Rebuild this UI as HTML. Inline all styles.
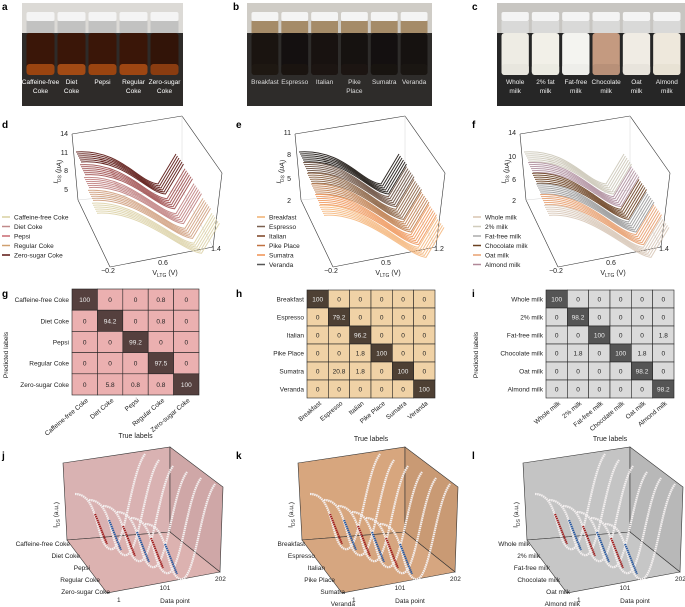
<!DOCTYPE html><html><head><style>body{margin:0;background:#fff}svg{display:block;font-family:"Liberation Sans",sans-serif}</style></head><body>
<svg id="s" width="685" height="607" viewBox="0 0 685 607" xmlns="http://www.w3.org/2000/svg"></svg>
<script>
const s=document.getElementById('s');let h='';
function T(x,y,t,o={}){h+=`<text x="${x}" y="${y}" font-size="${o.fs||7}" fill="${o.c||'#222'}" text-anchor="${o.a||'start'}" ${o.tr?`transform="${o.tr}"`:''} ${o.b?'font-weight="bold"':''}>${t}</text>`;}
[['a',2,10],['b',233,10],['c',472,10],['d',2,128],['e',236,128],['f',472,128],['g',2,297],['h',236,297],['i',472,297],['j',2,459],['k',236,459],['l',472,459]].forEach(p=>T(p[1],p[2],p[0],{fs:10,b:1,c:'#000'}));
function photo(x0,x1,top,bot,vials,labels,lc){const W=x1-x0;h+=`<rect x="${x0}" y="3" width="${W}" height="103" fill="${bot}"/><rect x="${x0}" y="3" width="${W}" height="30" fill="${top}"/>`;
 const n=vials.length,w=(W-6)/n;vials.forEach((v,i)=>{const x=x0+3+i*w+1.5,vw=w-3;h+=`<rect x="${x}" y="12" width="${vw}" height="9" rx="2" fill="#f4f4f4"/><rect x="${x}" y="21" width="${vw}" height="12" fill="${v[2]}" opacity="0.8"/><rect x="${x}" y="33" width="${vw}" height="42" rx="3" fill="${v[0]}"/><rect x="${x}" y="64" width="${vw}" height="11" rx="3" fill="${v[1]}"/>`;
 const L=labels[i];L.forEach((t,j)=>T(x+vw/2,84+j*9,t,{a:'middle',c:lc,fs:6.5}));});}
photo(22,183,'#dcdad6','#2e2b29',[['#3a1608','#9a4410','#bbb'],['#3a1608','#a24a14','#bbb'],['#3a1608','#9a4410','#bbb'],['#3a1608','#9e4612','#bbb'],['#321408','#8a3c10','#bbb']],[['Caffeine-free','Coke'],['Diet','Coke'],['Pepsi'],['Regular','Coke'],['Zero-sugar','Coke']],'#fff');
photo(247,432,'#cfccc6','#2e2c2a',[['#1a1410','#1e1812','#9a7a50'],['#141010','#1a1410','#9a7a50'],['#181210','#1c1512','#9a7a50'],['#161210','#1c1512','#9a7a50'],['#141010','#181410','#9a7a50'],['#161210','#1a1612','#9a7a50']],[['Breakfast'],['Espresso'],['Italian'],['Pike','Place'],['Sumatra'],['Veranda']],'#ddd');
photo(497,685,'#c8c6c2','#262626',[['#eeece4','#e8e6de','#ddd'],['#f2f0e8','#ecebe2','#ddd'],['#f4f4f0','#eeeeea','#ddd'],['#c49a80','#b89078','#ddd'],['#f0ece4','#e8e4dc','#ddd'],['#eee8dc','#e8e2d4','#ddd']],[['Whole','milk'],['2% fat','milk'],['Fat-free','milk'],['Chocolate','milk'],['Oat','milk'],['Almond','milk']],'#eee');
const lcol={0:['#d8d0a0','#c08a8a','#c86870','#d0a070','#5a1410'],223:['#f0b070','#7a6050','#7a4020','#c07040','#f09050','#555'],448:['#d8c4b0','#d0ccbc','#aaa','#6a4020','#e8a070','#b08898']};
function line3d(ox,cols,yt,xt,legend,lx,ly){
 const L=(a,b,c,d,st='#333',w=0.6)=>h+=`<line x1="${a+ox}" y1="${b}" x2="${c+ox}" y2="${d}" stroke="${st}" stroke-width="${w}"/>`;
 L(72,134,182,116);L(182,116,222,173);L(222,173,213,247);L(213,247,110,267);L(110,267,78,200);L(78,200,72,134);
 L(182,116,182,190,'#ccc',0.4);L(182,190,78,200,'#ccc',0.4);L(182,190,213,247,'#ccc',0.4);
 const nb=cols.length;
 cols.forEach((c,i)=>{for(let k=0;k<6;k++){const sx=76+i*4+k,sy=152+i*(64/nb)+k*2,mx=158+i*(45/nb)+k*1.5,my=sy+32+i*2,ex=mx+18,ey=my-30;
  h+=`<path d="M${sx+ox},${sy} C${sx+45+ox},${sy-3} ${mx-20+ox},${my-2} ${mx+ox},${my} L${ex+ox},${ey}" fill="none" stroke="${c}" stroke-width="1" opacity="0.9"/>`;}});
 yt.forEach((t,i)=>T(68+ox,ly[i]+2,t,{a:'end'}));
 T(60+ox,172,'I<tspan font-size="5" dy="2">DS</tspan><tspan dy="-2"> (μA)</tspan>',{tr:`rotate(-80 ${60+ox} 172)`,a:'middle'});
 T(108+ox,273,xt[0],{a:'middle'});T(163+ox,265,xt[1],{a:'middle'});T(216+ox,251,xt[2],{a:'middle'});
 T(165+ox,275,'V<tspan font-size="5" dy="2">LTG</tspan><tspan dy="-2"> (V)</tspan>',{a:'middle'});
 legend.forEach((t,i)=>{h+=`<line x1="${lx}" y1="${217+i*9.5}" x2="${lx+8}" y2="${217+i*9.5}" stroke="${lcol[ox][i]}" stroke-width="1.5"/>`;T(lx+12,219.5+i*9.5,t,{fs:6.5});});
}
line3d(0,['#5a1410','#a05050','#c08080','#d0a080','#ddd3a8'],['14','11','8','5'],['−0.2','0.6','1.4'],['Caffeine-free Coke','Diet Coke','Pepsi','Regular Coke','Zero-sugar Coke'],2,[134,153,171,190]);
line3d(223,['#1a1410','#6a5040','#8a6040','#c08050','#f09a60','#f5b880'],['11','8','5','2'],['−0.2','0.5','1.2'],['Breakfast','Espresso','Italian','Pike Place','Sumatra','Veranda'],257,[133,155,179,201]);
line3d(448,['#ccc8b8','#b090a0','#6a4020','#999','#e8a070','#d8c8b8'],['14','10','6','2'],['−0.2','0.6','1.4'],['Whole milk','2% milk','Fat-free milk','Chocolate milk','Oat milk','Almond milk'],473,[133,157,180,201]);
function mat(x0,y0,w,hh,labs,data,lc,dc){const n=labs.length,cw=w/n,ch=hh/n;
 data.forEach((r,i)=>r.forEach((v,j)=>{const d=i==j;h+=`<rect x="${x0+j*cw}" y="${y0+i*ch}" width="${cw}" height="${ch}" fill="${d?dc:lc}" stroke="#222" stroke-width="0.6"/>`;T(x0+j*cw+cw/2,y0+i*ch+ch/2+2.5,v,{a:'middle',fs:6.5,c:d?'#eee':'#222'});}));
 labs.forEach((t,i)=>{T(x0-3,y0+i*ch+ch/2+2.5,t,{a:'end',fs:6.5});});
 labs.forEach((t,j)=>{const x=x0+j*cw+cw/2+4,y=y0+hh+6;T(x,y,t,{a:'end',fs:6.5,tr:`rotate(-40 ${x} ${y})`});});
 T(x0+w/2,y0+hh+43,'True labels',{a:'middle'});}
mat(72,289,127,106,['Caffeine-free Coke','Diet Coke','Pepsi','Regular Coke','Zero-sugar Coke'],[['100','0','0','0.8','0'],['0','94.2','0','0.8','0'],['0','0','99.2','0','0'],['0','0','0','97.5','0'],['0','5.8','0.8','0.8','100']],'#ebb0b0','#55403e');
T(8,355,'Predicted labels',{fs:6.5,tr:'rotate(-90 8 355)',a:'middle'});
mat(307,290,128,108,['Breakfast','Espresso','Italian','Pike Place','Sumatra','Veranda'],[['100','0','0','0','0','0'],['0','79.2','0','0','0','0'],['0','0','96.2','0','0','0'],['0','0','1.8','100','0','0'],['0','20.8','1.8','0','100','0'],['0','0','0','0','0','100']],'#f0d2a6','#4e4034');
mat(546,290,128,108,['Whole milk','2% milk','Fat-free milk','Chocolate milk','Oat milk','Almond milk'],[['100','0','0','0','0','0'],['0','98.2','0','0','0','0'],['0','0','100','0','0','1.8'],['0','1.8','0','100','1.8','0'],['0','0','0','0','98.2','0'],['0','0','0','0','0','98.2']],'#dadada','#555');
T(478,355,'Predicted labels',{fs:6.5,tr:'rotate(-90 478 355)',a:'middle'});
function box(ox,fc,labs){const P=a=>a.map(p=>(p[0]+ox)+','+p[1]).join(' ');
 h+=`<polygon points="${P([[63,463],[170,447],[170,532],[67,540]])}" fill="${fc[0]}" stroke="#333" stroke-width="0.6"/>`;
 h+=`<polygon points="${P([[170,447],[223,487],[220,572],[170,532]])}" fill="${fc[1]}" stroke="#333" stroke-width="0.6"/>`;
 h+=`<polygon points="${P([[67,540],[170,532],[220,572],[107,593]])}" fill="${fc[2]}" stroke="#333" stroke-width="0.6"/>`;
 for(let i=0;i<6;i++){const x=75+i*14,y=494+i*6;h+=`<path d="M${x+ox},${y} C${x+25+ox},${y} ${x+20+ox},${y+50} ${x+35+ox},${y+55} S${x+55+ox},${y-20} ${x+70+ox},${y-40}" fill="none" stroke="#f4f0f0" stroke-width="2.2" stroke-dasharray="1.5 0.6"/>`;
  h+=`<path d="M${x+20+ox},${y+20} q6,15 12,30" stroke="${i%2?'#2a5aa0':'#a02020'}" stroke-width="2" fill="none" stroke-dasharray="1.5 0.6"/>`;}
 T(58+ox,515,'I<tspan font-size="5" dy="2">DS</tspan><tspan dy="-2"> (a.u.)</tspan>',{fs:6.5,tr:`rotate(-88 ${58+ox} 515)`,a:'middle'});
 labs.forEach((t,i)=>T(70+ox+i*10,546+i*12,t,{a:'end',fs:6.5}));
 T(117+ox,602,'1',{fs:6.5});T(165+ox,590,'101',{fs:6.5,a:'middle'});T(215+ox,581,'202',{fs:6.5});T(175+ox,603,'Data point',{fs:6.5,a:'middle'});}
box(0,['#d9b2b2','#cfa7a7','#dcb2b0'],['Caffeine-free Coke','Diet Coke','Pepsi','Regular Coke','Zero-sugar Coke']);
box(235,['#d7a67e','#c99a74','#d6a680'],['Breakfast','Espresso','Italian','Pike Place','Sumatra','Veranda']);
box(460,['#c4c4c4','#b8b8b8','#c6c6c6'],['Whole milk','2% milk','Fat-free milk','Chocolate milk','Oat milk','Almond milk']);
s.innerHTML=h;
</script></body></html>
